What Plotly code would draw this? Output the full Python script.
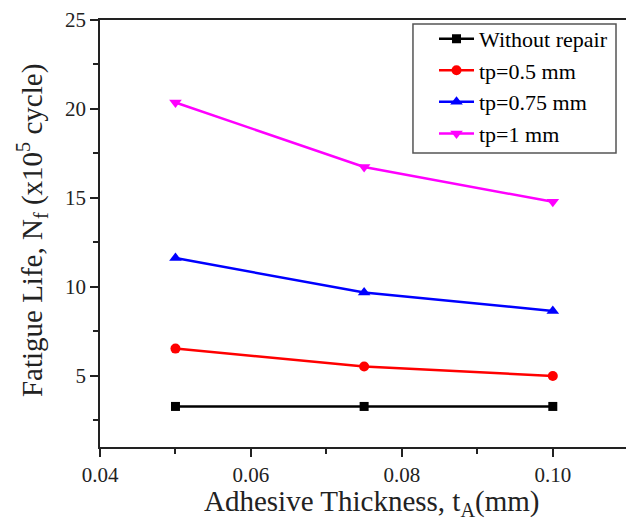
import plotly.graph_objects as go

x_thickness = [0.05, 0.075, 0.10]
without_repair = [3.28, 3.28, 3.28]
tp_05 = [6.53, 5.52, 4.99]
tp_075 = [11.62, 9.68, 8.65]
tp_1 = [20.36, 16.74, 14.78]

series = [
    ("Without repair", without_repair, "#000000", "square", 9),
    ("tp=0.5 mm", tp_05, "#ff0000", "circle", 10),
    ("tp=0.75 mm", tp_075, "#0000ff", "triangle-up", 11),
    ("tp=1 mm", tp_1, "#ff00ff", "triangle-down", 11),
]

FONT = "Liberation Serif"
TICKFONT = dict(family=FONT, size=21, color="#222222")

fig = go.Figure()
for name, vals, color, sym, size in series:
    fig.add_trace(go.Scatter(
        x=x_thickness, y=vals, name=name, mode="lines+markers",
        line=dict(color=color, width=2.5),
        marker=dict(symbol=sym, size=size, color=color),
    ))

fig.update_layout(
    width=626, height=522,
    margin=dict(l=100, r=0, t=20, b=75, autoexpand=False),
    paper_bgcolor="white", plot_bgcolor="white",
    font=dict(family=FONT, size=21, color="#222222"),
    legend=dict(
        x=0.635, y=1.005, xanchor="left", yanchor="top",
        bgcolor="rgba(0,0,0,0)", borderwidth=0,
        font=dict(family=FONT, size=22, color="#000000"),
        tracegroupgap=0, itemwidth=35,
    ),
    showlegend=True,
)

# legend frame
fig.add_shape(
    type="rect", xref="paper", yref="paper",
    x0=0.595, x1=0.981, y0=0.6885, y1=0.9906,
    line=dict(color="#555555", width=1.5), fillcolor="white", layer="below",
)

fig.update_xaxes(
    range=[0.04, 0.1097], dtick=0.02, tick0=0.04, tickformat=".2f", mirror=True,
    showgrid=False, zeroline=False, showline=True, linecolor="#222222", linewidth=1.5,
    ticks="outside", ticklen=8, tickwidth=1.5, tickcolor="#222222",
    tickfont=TICKFONT, automargin=False,
    minor=dict(ticks="outside", ticklen=5, dtick=0.01, tickcolor="#222222", tickwidth=1.5),
)
fig.update_yaxes(
    range=[1, 25], dtick=5, tick0=0, mirror=False,
    showgrid=False, zeroline=False, showline=True, linecolor="#222222", linewidth=1.5,
    ticks="outside", ticklen=8, tickwidth=1.5, tickcolor="#222222",
    tickfont=TICKFONT, automargin=False,
    minor=dict(ticks="outside", ticklen=5, dtick=2.5, tick0=0, tickcolor="#222222", tickwidth=1.5),
)

fig.add_annotation(
    text="Adhesive Thickness, t<sub>A</sub>(mm)", xref="paper", yref="paper",
    x=0.517, y=-0.131, xanchor="center", yanchor="middle", showarrow=False,
    font=dict(family=FONT, size=29, color="#222222"),
)
fig.add_annotation(
    text="Fatigue Life, N<sub>f</sub> (x10<sup>5</sup> cycle)", xref="paper", yref="paper",
    x=-0.129, y=0.506, xanchor="center", yanchor="middle", showarrow=False, textangle=-90,
    font=dict(family=FONT, size=29, color="#222222"),
)

fig.write_html(
    "out.html",
    config={"displayModeBar": False},
    post_script="document.body.style.margin='0px';document.body.style.overflow='hidden';",
)
